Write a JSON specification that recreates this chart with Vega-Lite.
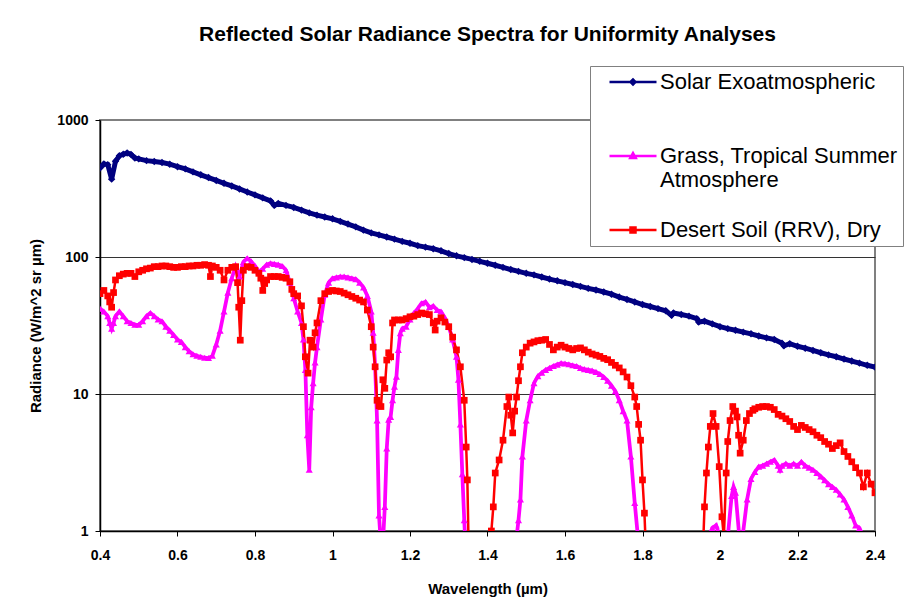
{
"$schema":"https://vega.github.io/schema/vega-lite/v6.json",
"width":775,"height":411,
"autosize":"none",
"padding":{"left":100,"top":120,"right":49,"bottom":82},
"background":"white",
"title":{"text":"Reflected Solar Radiance Spectra for Uniformity Analyses","font":"Liberation Sans","fontSize":21,"fontWeight":"bold","color":"black","anchor":"middle","frame":"group","offset":21},
"config":{"view":{"stroke":"#808080","strokeWidth":2},"font":"Liberation Sans"},
"data":{"values":[
{"s":"Solar","w":0.40,"r":446},{"s":"Solar","w":0.41,"r":478},{"s":"Solar","w":0.42,"r":472},{"s":"Solar","w":0.43,"r":370},{"s":"Solar","w":0.44,"r":500},{"s":"Solar","w":0.45,"r":548},{"s":"Solar","w":0.46,"r":562},{"s":"Solar","w":0.47,"r":575},{"s":"Solar","w":0.48,"r":560},{"s":"Solar","w":0.49,"r":528},{"s":"Solar","w":0.50,"r":520},{"s":"Solar","w":0.52,"r":505},{"s":"Solar","w":0.54,"r":498},{"s":"Solar","w":0.56,"r":490},{"s":"Solar","w":0.58,"r":476},{"s":"Solar","w":0.60,"r":456},{"s":"Solar","w":0.62,"r":440},{"s":"Solar","w":0.64,"r":418},{"s":"Solar","w":0.66,"r":398},{"s":"Solar","w":0.68,"r":380},{"s":"Solar","w":0.70,"r":362},{"s":"Solar","w":0.72,"r":345},{"s":"Solar","w":0.74,"r":330},{"s":"Solar","w":0.76,"r":314},{"s":"Solar","w":0.78,"r":298},{"s":"Solar","w":0.80,"r":284},{"s":"Solar","w":0.82,"r":270},{"s":"Solar","w":0.84,"r":257},{"s":"Solar","w":0.85,"r":238},{"s":"Solar","w":0.86,"r":246},{"s":"Solar","w":0.88,"r":238},{"s":"Solar","w":0.90,"r":230},{"s":"Solar","w":0.92,"r":220},{"s":"Solar","w":0.94,"r":210},{"s":"Solar","w":0.96,"r":202},{"s":"Solar","w":0.98,"r":196},{"s":"Solar","w":1.00,"r":190},{"s":"Solar","w":1.02,"r":182},{"s":"Solar","w":1.04,"r":174},{"s":"Solar","w":1.06,"r":166},{"s":"Solar","w":1.08,"r":157},{"s":"Solar","w":1.10,"r":150},{"s":"Solar","w":1.12,"r":145},{"s":"Solar","w":1.14,"r":140},{"s":"Solar","w":1.16,"r":135},{"s":"Solar","w":1.18,"r":130},{"s":"Solar","w":1.20,"r":126},{"s":"Solar","w":1.22,"r":121},{"s":"Solar","w":1.24,"r":118},{"s":"Solar","w":1.26,"r":115},{"s":"Solar","w":1.28,"r":111},{"s":"Solar","w":1.30,"r":106},{"s":"Solar","w":1.32,"r":102},{"s":"Solar","w":1.34,"r":99},{"s":"Solar","w":1.36,"r":96},{"s":"Solar","w":1.38,"r":93},{"s":"Solar","w":1.40,"r":90},{"s":"Solar","w":1.42,"r":87},{"s":"Solar","w":1.44,"r":84},{"s":"Solar","w":1.46,"r":81},{"s":"Solar","w":1.48,"r":78.5},{"s":"Solar","w":1.50,"r":76},{"s":"Solar","w":1.52,"r":74},{"s":"Solar","w":1.54,"r":71.5},{"s":"Solar","w":1.56,"r":69},{"s":"Solar","w":1.58,"r":67},{"s":"Solar","w":1.60,"r":65},{"s":"Solar","w":1.62,"r":63},{"s":"Solar","w":1.64,"r":61},{"s":"Solar","w":1.66,"r":59},{"s":"Solar","w":1.68,"r":57.5},{"s":"Solar","w":1.70,"r":55.5},{"s":"Solar","w":1.72,"r":53.5},{"s":"Solar","w":1.74,"r":51},{"s":"Solar","w":1.76,"r":49},{"s":"Solar","w":1.78,"r":47},{"s":"Solar","w":1.80,"r":45},{"s":"Solar","w":1.82,"r":43.5},{"s":"Solar","w":1.84,"r":42},{"s":"Solar","w":1.86,"r":40.5},{"s":"Solar","w":1.875,"r":37.5},{"s":"Solar","w":1.88,"r":39},{"s":"Solar","w":1.90,"r":38},{"s":"Solar","w":1.92,"r":37},{"s":"Solar","w":1.94,"r":35.5},{"s":"Solar","w":1.945,"r":33.5},{"s":"Solar","w":1.96,"r":34},{"s":"Solar","w":1.98,"r":32.5},{"s":"Solar","w":2.00,"r":31},{"s":"Solar","w":2.02,"r":30},{"s":"Solar","w":2.04,"r":29.2},{"s":"Solar","w":2.06,"r":28.3},{"s":"Solar","w":2.08,"r":27.5},{"s":"Solar","w":2.10,"r":26.5},{"s":"Solar","w":2.12,"r":25.7},{"s":"Solar","w":2.14,"r":25},{"s":"Solar","w":2.16,"r":23.5},{"s":"Solar","w":2.165,"r":22.5},{"s":"Solar","w":2.18,"r":23.3},{"s":"Solar","w":2.20,"r":22.3},{"s":"Solar","w":2.22,"r":21.6},{"s":"Solar","w":2.24,"r":20.8},{"s":"Solar","w":2.26,"r":20},{"s":"Solar","w":2.28,"r":19.3},{"s":"Solar","w":2.30,"r":18.7},{"s":"Solar","w":2.32,"r":18},{"s":"Solar","w":2.34,"r":17.4},{"s":"Solar","w":2.36,"r":16.8},{"s":"Solar","w":2.38,"r":16.2},{"s":"Solar","w":2.40,"r":15.7},
{"s":"Grass","w":0.40,"r":42},{"s":"Grass","w":0.41,"r":40},{"s":"Grass","w":0.42,"r":37},{"s":"Grass","w":0.425,"r":33},{"s":"Grass","w":0.43,"r":30},{"s":"Grass","w":0.435,"r":33},{"s":"Grass","w":0.44,"r":37},{"s":"Grass","w":0.45,"r":40},{"s":"Grass","w":0.46,"r":37},{"s":"Grass","w":0.47,"r":34},{"s":"Grass","w":0.48,"r":33},{"s":"Grass","w":0.49,"r":32},{"s":"Grass","w":0.50,"r":32},{"s":"Grass","w":0.51,"r":34},{"s":"Grass","w":0.52,"r":37},{"s":"Grass","w":0.53,"r":39},{"s":"Grass","w":0.54,"r":37},{"s":"Grass","w":0.55,"r":35},{"s":"Grass","w":0.56,"r":34},{"s":"Grass","w":0.57,"r":31},{"s":"Grass","w":0.58,"r":29},{"s":"Grass","w":0.59,"r":27},{"s":"Grass","w":0.60,"r":25},{"s":"Grass","w":0.61,"r":24},{"s":"Grass","w":0.62,"r":22},{"s":"Grass","w":0.63,"r":20.5},{"s":"Grass","w":0.64,"r":19.5},{"s":"Grass","w":0.65,"r":19},{"s":"Grass","w":0.66,"r":18.7},{"s":"Grass","w":0.67,"r":18.4},{"s":"Grass","w":0.68,"r":18.3},{"s":"Grass","w":0.69,"r":19},{"s":"Grass","w":0.70,"r":23},{"s":"Grass","w":0.71,"r":29},{"s":"Grass","w":0.72,"r":40},{"s":"Grass","w":0.73,"r":55},{"s":"Grass","w":0.74,"r":70},{"s":"Grass","w":0.75,"r":85},{"s":"Grass","w":0.76,"r":72},{"s":"Grass","w":0.77,"r":92},{"s":"Grass","w":0.78,"r":98},{"s":"Grass","w":0.79,"r":93},{"s":"Grass","w":0.80,"r":86},{"s":"Grass","w":0.81,"r":78},{"s":"Grass","w":0.82,"r":82},{"s":"Grass","w":0.83,"r":88},{"s":"Grass","w":0.84,"r":90},{"s":"Grass","w":0.85,"r":89},{"s":"Grass","w":0.86,"r":88},{"s":"Grass","w":0.87,"r":86},{"s":"Grass","w":0.88,"r":80},{"s":"Grass","w":0.89,"r":65},{"s":"Grass","w":0.90,"r":50},{"s":"Grass","w":0.91,"r":40},{"s":"Grass","w":0.92,"r":33},{"s":"Grass","w":0.925,"r":25},{"s":"Grass","w":0.93,"r":15},{"s":"Grass","w":0.935,"r":5},{"s":"Grass","w":0.94,"r":2.8},{"s":"Grass","w":0.945,"r":8},{"s":"Grass","w":0.95,"r":12},{"s":"Grass","w":0.955,"r":17},{"s":"Grass","w":0.96,"r":22},{"s":"Grass","w":0.97,"r":35},{"s":"Grass","w":0.98,"r":53},{"s":"Grass","w":0.99,"r":65},{"s":"Grass","w":1.00,"r":70},{"s":"Grass","w":1.01,"r":71},{"s":"Grass","w":1.02,"r":72},{"s":"Grass","w":1.03,"r":72},{"s":"Grass","w":1.04,"r":71},{"s":"Grass","w":1.05,"r":70},{"s":"Grass","w":1.06,"r":69},{"s":"Grass","w":1.07,"r":65},{"s":"Grass","w":1.08,"r":60},{"s":"Grass","w":1.09,"r":52},{"s":"Grass","w":1.10,"r":40},{"s":"Grass","w":1.105,"r":28},{"s":"Grass","w":1.11,"r":16},{"s":"Grass","w":1.115,"r":6.4},{"s":"Grass","w":1.12,"r":1.3},{"s":"Grass","w":1.125,"r":0.8},{"s":"Grass","w":1.13,"r":0.8},{"s":"Grass","w":1.135,"r":1.5},{"s":"Grass","w":1.14,"r":4},{"s":"Grass","w":1.145,"r":6.5},{"s":"Grass","w":1.15,"r":6.8},{"s":"Grass","w":1.155,"r":9},{"s":"Grass","w":1.16,"r":11.3},{"s":"Grass","w":1.165,"r":13.4},{"s":"Grass","w":1.17,"r":21},{"s":"Grass","w":1.175,"r":27.8},{"s":"Grass","w":1.18,"r":30},{"s":"Grass","w":1.19,"r":31},{"s":"Grass","w":1.20,"r":35},{"s":"Grass","w":1.21,"r":39},{"s":"Grass","w":1.22,"r":42},{"s":"Grass","w":1.23,"r":46},{"s":"Grass","w":1.24,"r":47},{"s":"Grass","w":1.25,"r":43},{"s":"Grass","w":1.26,"r":44},{"s":"Grass","w":1.27,"r":41},{"s":"Grass","w":1.28,"r":40},{"s":"Grass","w":1.29,"r":36},{"s":"Grass","w":1.30,"r":31},{"s":"Grass","w":1.31,"r":25},{"s":"Grass","w":1.32,"r":18.7},{"s":"Grass","w":1.325,"r":12.7},{"s":"Grass","w":1.33,"r":6},{"s":"Grass","w":1.335,"r":2.6},{"s":"Grass","w":1.34,"r":1.2},{"s":"Grass","w":1.345,"r":0.6},{"s":"Grass","w":1.40,"r":0.5},{"s":"Grass","w":1.47,"r":0.5},{"s":"Grass","w":1.475,"r":0.9},{"s":"Grass","w":1.48,"r":1.2},{"s":"Grass","w":1.485,"r":1.7},{"s":"Grass","w":1.49,"r":3.5},{"s":"Grass","w":1.50,"r":6.4},{"s":"Grass","w":1.51,"r":9},{"s":"Grass","w":1.52,"r":12},{"s":"Grass","w":1.53,"r":13.5},{"s":"Grass","w":1.54,"r":14.3},{"s":"Grass","w":1.55,"r":15},{"s":"Grass","w":1.56,"r":15.5},{"s":"Grass","w":1.57,"r":16},{"s":"Grass","w":1.58,"r":16.4},{"s":"Grass","w":1.59,"r":16.8},{"s":"Grass","w":1.60,"r":16.7},{"s":"Grass","w":1.61,"r":16.5},{"s":"Grass","w":1.62,"r":16.2},{"s":"Grass","w":1.63,"r":16},{"s":"Grass","w":1.64,"r":15.5},{"s":"Grass","w":1.65,"r":15.2},{"s":"Grass","w":1.66,"r":15},{"s":"Grass","w":1.67,"r":14.8},{"s":"Grass","w":1.68,"r":14.5},{"s":"Grass","w":1.69,"r":14},{"s":"Grass","w":1.70,"r":13.3},{"s":"Grass","w":1.71,"r":12.5},{"s":"Grass","w":1.72,"r":11.5},{"s":"Grass","w":1.73,"r":10.5},{"s":"Grass","w":1.74,"r":9},{"s":"Grass","w":1.75,"r":7.5},{"s":"Grass","w":1.76,"r":6.4},{"s":"Grass","w":1.77,"r":3.5},{"s":"Grass","w":1.78,"r":1.6},{"s":"Grass","w":1.79,"r":0.8},{"s":"Grass","w":1.85,"r":0.5},{"s":"Grass","w":1.97,"r":0.5},{"s":"Grass","w":1.98,"r":1.05},{"s":"Grass","w":1.99,"r":1.1},{"s":"Grass","w":2.00,"r":0.9},{"s":"Grass","w":2.02,"r":0.9},{"s":"Grass","w":2.03,"r":1.8},{"s":"Grass","w":2.035,"r":2.1},{"s":"Grass","w":2.04,"r":1.9},{"s":"Grass","w":2.05,"r":0.9},{"s":"Grass","w":2.06,"r":1.0},{"s":"Grass","w":2.07,"r":1.7},{"s":"Grass","w":2.08,"r":2.4},{"s":"Grass","w":2.09,"r":2.7},{"s":"Grass","w":2.10,"r":2.95},{"s":"Grass","w":2.11,"r":3.0},{"s":"Grass","w":2.12,"r":3.1},{"s":"Grass","w":2.13,"r":3.2},{"s":"Grass","w":2.14,"r":3.3},{"s":"Grass","w":2.15,"r":3.0},{"s":"Grass","w":2.155,"r":2.8},{"s":"Grass","w":2.16,"r":3.0},{"s":"Grass","w":2.17,"r":3.1},{"s":"Grass","w":2.18,"r":3.0},{"s":"Grass","w":2.19,"r":3.1},{"s":"Grass","w":2.20,"r":3.0},{"s":"Grass","w":2.21,"r":3.2},{"s":"Grass","w":2.22,"r":3.0},{"s":"Grass","w":2.23,"r":2.9},{"s":"Grass","w":2.24,"r":2.8},{"s":"Grass","w":2.25,"r":2.65},{"s":"Grass","w":2.26,"r":2.5},{"s":"Grass","w":2.27,"r":2.35},{"s":"Grass","w":2.28,"r":2.2},{"s":"Grass","w":2.29,"r":2.1},{"s":"Grass","w":2.30,"r":2.0},{"s":"Grass","w":2.31,"r":1.85},{"s":"Grass","w":2.32,"r":1.7},{"s":"Grass","w":2.33,"r":1.5},{"s":"Grass","w":2.34,"r":1.3},{"s":"Grass","w":2.35,"r":1.1},{"s":"Grass","w":2.36,"r":1.05},{"s":"Grass","w":2.37,"r":0.8},{"s":"Grass","w":2.40,"r":0.5},
{"s":"Desert","w":0.40,"r":54},{"s":"Desert","w":0.41,"r":57},{"s":"Desert","w":0.42,"r":52},{"s":"Desert","w":0.425,"r":47},{"s":"Desert","w":0.43,"r":43},{"s":"Desert","w":0.435,"r":55},{"s":"Desert","w":0.44,"r":68},{"s":"Desert","w":0.45,"r":73},{"s":"Desert","w":0.46,"r":75},{"s":"Desert","w":0.47,"r":76},{"s":"Desert","w":0.48,"r":76},{"s":"Desert","w":0.49,"r":72},{"s":"Desert","w":0.50,"r":78},{"s":"Desert","w":0.51,"r":80},{"s":"Desert","w":0.52,"r":82},{"s":"Desert","w":0.53,"r":83},{"s":"Desert","w":0.54,"r":85},{"s":"Desert","w":0.55,"r":85},{"s":"Desert","w":0.56,"r":86},{"s":"Desert","w":0.57,"r":86},{"s":"Desert","w":0.58,"r":85},{"s":"Desert","w":0.59,"r":84},{"s":"Desert","w":0.60,"r":84},{"s":"Desert","w":0.61,"r":85},{"s":"Desert","w":0.62,"r":85},{"s":"Desert","w":0.63,"r":86},{"s":"Desert","w":0.64,"r":86},{"s":"Desert","w":0.65,"r":87},{"s":"Desert","w":0.66,"r":87},{"s":"Desert","w":0.67,"r":88},{"s":"Desert","w":0.68,"r":87},{"s":"Desert","w":0.685,"r":72},{"s":"Desert","w":0.69,"r":86},{"s":"Desert","w":0.70,"r":84},{"s":"Desert","w":0.71,"r":80},{"s":"Desert","w":0.72,"r":68},{"s":"Desert","w":0.73,"r":80},{"s":"Desert","w":0.74,"r":84},{"s":"Desert","w":0.75,"r":85},{"s":"Desert","w":0.755,"r":65},{"s":"Desert","w":0.758,"r":43},{"s":"Desert","w":0.762,"r":24.7},{"s":"Desert","w":0.766,"r":48},{"s":"Desert","w":0.77,"r":80},{"s":"Desert","w":0.78,"r":85},{"s":"Desert","w":0.79,"r":84},{"s":"Desert","w":0.80,"r":80},{"s":"Desert","w":0.81,"r":76},{"s":"Desert","w":0.815,"r":70},{"s":"Desert","w":0.82,"r":57},{"s":"Desert","w":0.825,"r":64},{"s":"Desert","w":0.83,"r":68},{"s":"Desert","w":0.84,"r":72},{"s":"Desert","w":0.85,"r":72},{"s":"Desert","w":0.86,"r":72},{"s":"Desert","w":0.87,"r":71},{"s":"Desert","w":0.88,"r":70},{"s":"Desert","w":0.89,"r":66},{"s":"Desert","w":0.895,"r":58},{"s":"Desert","w":0.90,"r":54},{"s":"Desert","w":0.91,"r":52},{"s":"Desert","w":0.92,"r":44},{"s":"Desert","w":0.925,"r":31},{"s":"Desert","w":0.93,"r":18.7},{"s":"Desert","w":0.937,"r":14.2},{"s":"Desert","w":0.942,"r":24.7},{"s":"Desert","w":0.95,"r":22},{"s":"Desert","w":0.955,"r":28},{"s":"Desert","w":0.96,"r":33},{"s":"Desert","w":0.97,"r":48},{"s":"Desert","w":0.98,"r":54},{"s":"Desert","w":0.99,"r":56},{"s":"Desert","w":1.00,"r":57},{"s":"Desert","w":1.01,"r":56.5},{"s":"Desert","w":1.02,"r":56},{"s":"Desert","w":1.03,"r":54.5},{"s":"Desert","w":1.04,"r":53},{"s":"Desert","w":1.05,"r":51.5},{"s":"Desert","w":1.06,"r":50},{"s":"Desert","w":1.07,"r":48.5},{"s":"Desert","w":1.08,"r":47},{"s":"Desert","w":1.09,"r":41},{"s":"Desert","w":1.10,"r":31},{"s":"Desert","w":1.105,"r":22},{"s":"Desert","w":1.11,"r":15.8},{"s":"Desert","w":1.115,"r":9},{"s":"Desert","w":1.12,"r":8.2},{"s":"Desert","w":1.125,"r":8.1},{"s":"Desert","w":1.13,"r":12.7},{"s":"Desert","w":1.135,"r":11},{"s":"Desert","w":1.14,"r":17.7},{"s":"Desert","w":1.145,"r":20},{"s":"Desert","w":1.15,"r":18.7},{"s":"Desert","w":1.155,"r":33},{"s":"Desert","w":1.16,"r":34.7},{"s":"Desert","w":1.17,"r":34.7},{"s":"Desert","w":1.18,"r":34.7},{"s":"Desert","w":1.19,"r":35.5},{"s":"Desert","w":1.20,"r":36.6},{"s":"Desert","w":1.21,"r":37},{"s":"Desert","w":1.22,"r":38},{"s":"Desert","w":1.23,"r":39},{"s":"Desert","w":1.24,"r":38.5},{"s":"Desert","w":1.25,"r":38},{"s":"Desert","w":1.26,"r":33},{"s":"Desert","w":1.265,"r":29.3},{"s":"Desert","w":1.27,"r":34},{"s":"Desert","w":1.28,"r":36},{"s":"Desert","w":1.29,"r":33.5},{"s":"Desert","w":1.30,"r":31},{"s":"Desert","w":1.31,"r":26},{"s":"Desert","w":1.32,"r":21},{"s":"Desert","w":1.33,"r":15.8},{"s":"Desert","w":1.34,"r":9},{"s":"Desert","w":1.345,"r":4.1},{"s":"Desert","w":1.348,"r":2.36},{"s":"Desert","w":1.352,"r":0.6},{"s":"Desert","w":1.40,"r":0.5},{"s":"Desert","w":1.41,"r":1.0},{"s":"Desert","w":1.415,"r":1.5},{"s":"Desert","w":1.42,"r":2.65},{"s":"Desert","w":1.43,"r":3.3},{"s":"Desert","w":1.44,"r":4.6},{"s":"Desert","w":1.45,"r":8.1},{"s":"Desert","w":1.455,"r":9.5},{"s":"Desert","w":1.46,"r":7},{"s":"Desert","w":1.465,"r":5.2},{"s":"Desert","w":1.47,"r":7.5},{"s":"Desert","w":1.475,"r":9.5},{"s":"Desert","w":1.48,"r":12.5},{"s":"Desert","w":1.485,"r":15.8},{"s":"Desert","w":1.49,"r":20},{"s":"Desert","w":1.50,"r":22},{"s":"Desert","w":1.51,"r":23.5},{"s":"Desert","w":1.52,"r":24},{"s":"Desert","w":1.53,"r":24.5},{"s":"Desert","w":1.54,"r":24.7},{"s":"Desert","w":1.55,"r":25},{"s":"Desert","w":1.56,"r":23},{"s":"Desert","w":1.57,"r":21},{"s":"Desert","w":1.58,"r":22},{"s":"Desert","w":1.59,"r":22.7},{"s":"Desert","w":1.60,"r":22},{"s":"Desert","w":1.61,"r":21.5},{"s":"Desert","w":1.62,"r":21},{"s":"Desert","w":1.63,"r":21.5},{"s":"Desert","w":1.64,"r":21.7},{"s":"Desert","w":1.65,"r":21},{"s":"Desert","w":1.66,"r":20.2},{"s":"Desert","w":1.67,"r":19.6},{"s":"Desert","w":1.68,"r":19.2},{"s":"Desert","w":1.69,"r":18.8},{"s":"Desert","w":1.70,"r":18.2},{"s":"Desert","w":1.71,"r":17.8},{"s":"Desert","w":1.72,"r":17},{"s":"Desert","w":1.73,"r":16.2},{"s":"Desert","w":1.74,"r":15.5},{"s":"Desert","w":1.75,"r":14.5},{"s":"Desert","w":1.76,"r":13.3},{"s":"Desert","w":1.77,"r":11.5},{"s":"Desert","w":1.78,"r":9.5},{"s":"Desert","w":1.785,"r":8.1},{"s":"Desert","w":1.79,"r":6},{"s":"Desert","w":1.795,"r":4.6},{"s":"Desert","w":1.80,"r":2.36},{"s":"Desert","w":1.805,"r":1.35},{"s":"Desert","w":1.81,"r":0.6},{"s":"Desert","w":1.90,"r":0.5},{"s":"Desert","w":1.955,"r":0.6},{"s":"Desert","w":1.96,"r":1.5},{"s":"Desert","w":1.965,"r":2.65},{"s":"Desert","w":1.97,"r":4.1},{"s":"Desert","w":1.975,"r":5.8},{"s":"Desert","w":1.982,"r":7.2},{"s":"Desert","w":1.99,"r":5.8},{"s":"Desert","w":1.998,"r":2.95},{"s":"Desert","w":2.005,"r":1.27},{"s":"Desert","w":2.01,"r":0.9},{"s":"Desert","w":2.016,"r":2.65},{"s":"Desert","w":2.02,"r":4.5},{"s":"Desert","w":2.026,"r":6.4},{"s":"Desert","w":2.033,"r":8.1},{"s":"Desert","w":2.04,"r":7.5},{"s":"Desert","w":2.044,"r":6.8},{"s":"Desert","w":2.048,"r":5},{"s":"Desert","w":2.052,"r":3.7},{"s":"Desert","w":2.06,"r":4.6},{"s":"Desert","w":2.068,"r":6.4},{"s":"Desert","w":2.076,"r":7.2},{"s":"Desert","w":2.085,"r":7.6},{"s":"Desert","w":2.09,"r":7.8},{"s":"Desert","w":2.10,"r":8.0},{"s":"Desert","w":2.11,"r":8.1},{"s":"Desert","w":2.12,"r":8.1},{"s":"Desert","w":2.13,"r":8.0},{"s":"Desert","w":2.14,"r":7.7},{"s":"Desert","w":2.15,"r":7.1},{"s":"Desert","w":2.16,"r":6.9},{"s":"Desert","w":2.17,"r":6.6},{"s":"Desert","w":2.18,"r":6.3},{"s":"Desert","w":2.19,"r":5.8},{"s":"Desert","w":2.20,"r":5.5},{"s":"Desert","w":2.21,"r":5.9},{"s":"Desert","w":2.22,"r":5.7},{"s":"Desert","w":2.23,"r":5.5},{"s":"Desert","w":2.24,"r":5.3},{"s":"Desert","w":2.25,"r":5.0},{"s":"Desert","w":2.26,"r":4.8},{"s":"Desert","w":2.27,"r":4.5},{"s":"Desert","w":2.28,"r":4.3},{"s":"Desert","w":2.29,"r":4.0},{"s":"Desert","w":2.30,"r":4.2},{"s":"Desert","w":2.31,"r":4.4},{"s":"Desert","w":2.32,"r":3.8},{"s":"Desert","w":2.33,"r":3.5},{"s":"Desert","w":2.34,"r":3.2},{"s":"Desert","w":2.35,"r":2.9},{"s":"Desert","w":2.36,"r":2.65},{"s":"Desert","w":2.37,"r":2.1},{"s":"Desert","w":2.38,"r":2.65},{"s":"Desert","w":2.39,"r":2.2},{"s":"Desert","w":2.40,"r":1.9}
]},
"encoding":{
"x":{"field":"w","type":"quantitative","scale":{"domain":[0.4,2.4],"nice":false,"zero":false},
 "axis":{"values":[0.4,0.6,0.8,1,1.2,1.4,1.6,1.8,2,2.2,2.4],"format":"~g","grid":false,"title":"Wavelength (\u00b5m)","titleFont":"Liberation Sans","titleFontSize":15,"titleFontWeight":"bold","titleColor":"black","titleBaseline":"middle","titleY":57,"labelFont":"Liberation Sans","labelFontSize":14,"labelFontWeight":"bold","labelColor":"black","labelPadding":12,"tickSize":5,"tickColor":"black","domainColor":"black","domainWidth":1.5,"labelFlush":false}},
"y":{"field":"r","type":"quantitative","scale":{"type":"log","domain":[1,1000],"nice":false},
 "axis":{"values":[1,10,100,1000],"format":"d","grid":true,"gridColor":{"condition":{"test":"datum.value >= 1000","value":"transparent"},"value":"#333333"},"gridWidth":1,"title":"Radiance (W/m^2 sr  \u00b5m)","titleFont":"Liberation Sans","titleFontSize":15,"titleFontWeight":"bold","titleColor":"black","titleBaseline":"middle","titleX":-65,"labelFont":"Liberation Sans","labelFontSize":14,"labelFontWeight":"bold","labelColor":"black","labelPadding":7,"tickSize":5,"tickColor":"black","domainColor":"black","domainWidth":1.5,"labelFlush":false}},
"color":{"field":"s","type":"nominal","scale":{"domain":["Solar","Grass","Desert"],"range":["#000080","#FF00FF","#FF0000"]},"legend":null}
},
"resolve":{"scale":{"shape":"independent","color":"independent"}},
"layer":[
{"mark":{"type":"line","clip":true},
 "encoding":{"strokeWidth":{"field":"s","type":"nominal","scale":{"domain":["Solar","Grass","Desert"],"range":[5,2.5,2.5]},"legend":null}}},
{"mark":{"type":"point","filled":true,"opacity":1,"clip":true},
 "encoding":{"shape":{"field":"s","type":"nominal","scale":{"domain":["Solar","Grass","Desert"],"range":["diamond","triangle-up","square"]},"legend":null},
  "size":{"field":"s","type":"nominal","scale":{"domain":["Solar","Grass","Desert"],"range":[55,45,45]},"legend":null}}},
{"transform":[{"filter":"false"}],
 "mark":{"type":"point","filled":false,"opacity":1,"size":100,"strokeWidth":2.5,"clip":true},
 "encoding":{
  "color":{"field":"s","type":"nominal","scale":{"domain":["Solar","Grass","Desert"],"range":["#000080","#FF00FF","#FF0000"]},
   "legend":{"orient":"none","legendX":490,"legendY":-54,"title":null,"padding":5,"fillColor":"white","strokeColor":"#808080","labelFont":"Liberation Sans","labelFontSize":22,"labelColor":"black","labelLimit":600,"rowPadding":28,"symbolOffset":27,"labelOffset":16,"symbolSize":100,"symbolStrokeWidth":2.5,
    "labelExpr":"datum.value == 'Solar' ? ['Solar Exoatmospheric', ''] : datum.value == 'Grass' ? ['Grass, Tropical Summer', 'Atmosphere'] : 'Desert Soil (RRV), Dry'"}},
  "shape":{"field":"s","type":"nominal","scale":{"domain":["Solar","Grass","Desert"],"range":["M-4.7,0H4.7M-0.5,0L0,-0.5L0.5,0L0,0.5Z","M-4.7,0H4.7M0,-0.6L0.55,0.4L-0.55,0.4Z","M-4.7,0H4.7M-0.5,-0.5H0.5V0.5H-0.5Z"]},"legend":null}}}
]
}
